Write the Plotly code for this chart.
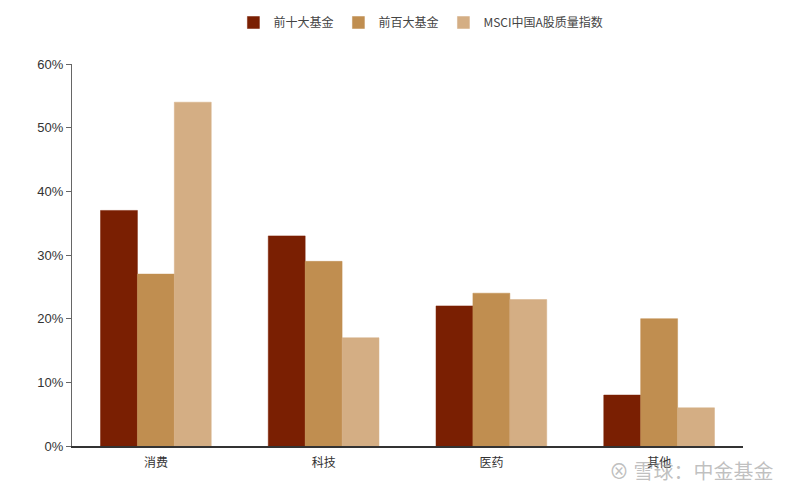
import plotly.graph_objects as go

categories = ["消费", "科技", "医药", "其他"]
top10 = [0.37, 0.33, 0.22, 0.08]
top100 = [0.27, 0.29, 0.24, 0.20]
msci = [0.54, 0.17, 0.23, 0.06]
series_names = ["前十大基金", "前百大基金", "MSCI中国A股质量指数"]
colors = ["#7A1F02", "#C08E50", "#D4AE84"]
tick_vals = [0, 0.1, 0.2, 0.3, 0.4, 0.5, 0.6]
tick_text = ["0%", "10%", "20%", "30%", "40%", "50%", "60%"]

fig = go.Figure()
for name, vals, c in zip(series_names, [top10, top100, msci], colors):
    fig.add_trace(go.Bar(x=categories, y=vals, name=name, marker=dict(color=c, line=dict(color=c, width=0.5))))

fig.update_layout(
    width=784, height=482,
    paper_bgcolor="white", plot_bgcolor="white",
    margin=dict(l=64, r=49, t=56, b=44, autoexpand=False),
    barmode="group", bargap=0.34, bargroupgap=0,
    font=dict(family="Noto Sans CJK SC, Arial", size=12, color="#333333"),
    legend=dict(orientation="h", x=0.52, xanchor="center", y=1.0, yanchor="top",
                yref="container", font=dict(size=12, color="#444444"),
                traceorder="normal"),
    showlegend=True,
)
fig.update_xaxes(showline=True, linecolor="#333333", linewidth=1.5, ticks="",
                 tickfont=dict(size=12, color="#333333"), showgrid=False,
                 ticklabelstandoff=5)
fig.update_yaxes(range=[0, 0.6], tickvals=tick_vals, ticktext=tick_text, showline=True,
                 linecolor="#666666", linewidth=1, ticks="outside", ticklen=5,
                 tickcolor="#666666", showgrid=False, zeroline=False,
                 tickfont=dict(family="Arial, Liberation Sans", size=13, color="#333333"))
fig.add_annotation(text="⊗ 雪球：中金基金", xref="paper", yref="paper", x=1.048, y=-0.063,
                   xanchor="right", yanchor="middle", showarrow=False,
                   font=dict(size=20, color="rgba(150,150,150,0.6)"))
fig.write_html("out.html")
